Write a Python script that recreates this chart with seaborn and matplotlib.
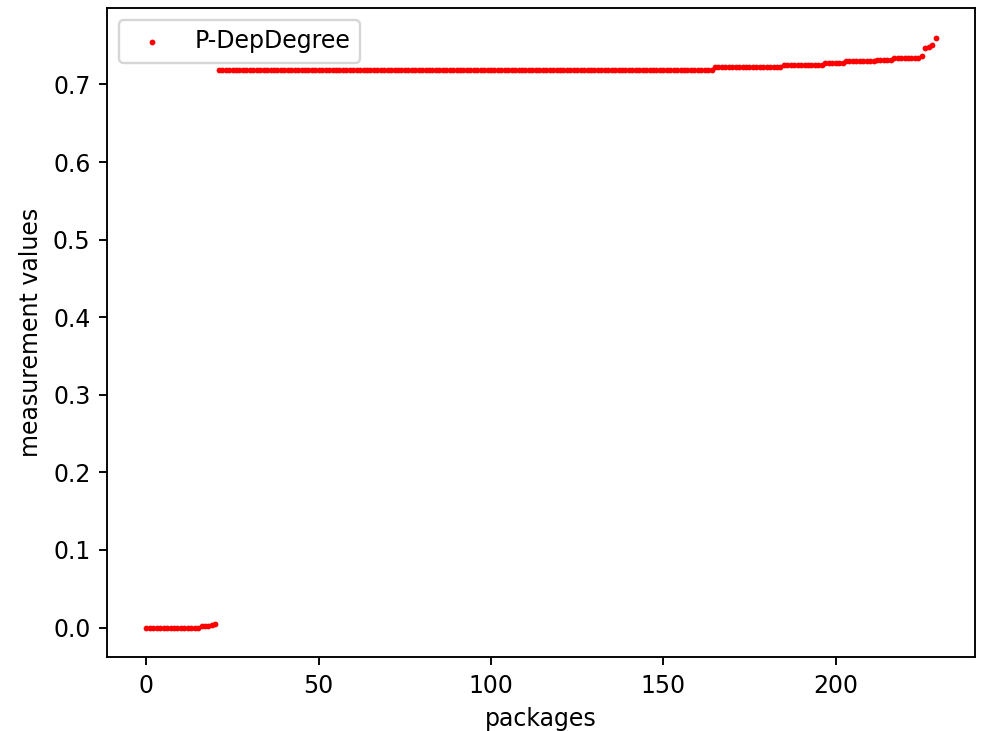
import matplotlib
matplotlib.use("Agg")
import matplotlib.pyplot as plt
import seaborn as sns
import numpy as np
import pandas as pd

series_label = "P-DepDegree"
x_label = "packages"
y_label = "measurement values"

values = [
    0.000, 0.000, 0.000, 0.000, 0.000, 0.000, 0.000, 0.000, 0.000, 0.000, 0.000, 0.000,
    0.000, 0.000, 0.000, 0.000, 0.0015, 0.002, 0.0025, 0.0035, 0.005,
    0.719, 0.719, 0.719, 0.719, 0.719, 0.719, 0.719, 0.719, 0.719, 0.719, 0.719, 0.719,
    0.719, 0.719, 0.719, 0.719, 0.719, 0.719, 0.719, 0.719, 0.719, 0.719, 0.719, 0.719,
    0.719, 0.719, 0.719, 0.719, 0.719, 0.719, 0.719, 0.719, 0.719, 0.719, 0.719, 0.719,
    0.719, 0.719, 0.719, 0.719, 0.719, 0.719, 0.719, 0.719, 0.719, 0.719, 0.719, 0.719,
    0.719, 0.719, 0.719, 0.719, 0.719, 0.719, 0.719, 0.719, 0.719, 0.719, 0.719, 0.719,
    0.719, 0.719, 0.719, 0.719, 0.719, 0.719, 0.719, 0.719, 0.719, 0.719, 0.719, 0.719,
    0.719, 0.719, 0.719, 0.719, 0.719, 0.719, 0.719, 0.719, 0.719, 0.719, 0.719, 0.719,
    0.719, 0.719, 0.719, 0.719, 0.719, 0.719, 0.719, 0.719, 0.719, 0.719, 0.719, 0.719,
    0.719, 0.719, 0.719, 0.719, 0.719, 0.719, 0.719, 0.719, 0.719, 0.719, 0.719, 0.719,
    0.719, 0.719, 0.719, 0.719, 0.719, 0.719, 0.719, 0.719, 0.719, 0.719, 0.719, 0.719,
    0.719, 0.719, 0.719, 0.719, 0.719, 0.719, 0.719, 0.719, 0.719, 0.719, 0.719, 0.719,
    0.719, 0.719, 0.719, 0.719, 0.719, 0.719, 0.719, 0.719, 0.719, 0.719, 0.719, 0.719,
    0.7225, 0.7225, 0.7225, 0.7225, 0.7225, 0.7225, 0.7225, 0.7225, 0.7225, 0.7225,
    0.7225, 0.7225, 0.7225, 0.7225, 0.7225, 0.7225, 0.7225, 0.7225, 0.7225, 0.7225,
    0.7247, 0.7247, 0.7247, 0.7247, 0.7247, 0.7247, 0.7247, 0.7247, 0.7247, 0.7247,
    0.7247, 0.7247,
    0.7276, 0.7276, 0.7276, 0.7276, 0.7276, 0.7276,
    0.7297, 0.7297, 0.7297, 0.7297, 0.7297, 0.7297, 0.7297, 0.7297, 0.7297,
    0.7318, 0.7318, 0.7318, 0.7318, 0.7318,
    0.7344, 0.7344, 0.7344, 0.7344, 0.7344, 0.7344, 0.7344, 0.7344,
    0.7361, 0.7468, 0.7477, 0.7502, 0.7605,
]
packages = list(range(len(values)))

df = pd.DataFrame({"packages": packages, "value": values})

DPI = 170
fig = plt.figure(figsize=(984 / DPI, 731 / DPI), dpi=DPI)
ax = fig.add_axes([107 / 984, 1 - 657 / 731, (975 - 107) / 984, (657 - 8) / 731])

sns.scatterplot(data=df, x="packages", y="value", color="red", s=6,
                linewidth=0, label=series_label, ax=ax)

ax.set_xlabel(x_label)
ax.set_ylabel(y_label)
ax.set_xticks([0, 50, 100, 150, 200])
ax.set_yticks([0.0, 0.1, 0.2, 0.3, 0.4, 0.5, 0.6, 0.7])
ax.legend(loc="upper left")

fig.savefig("out.png", dpi=DPI)
